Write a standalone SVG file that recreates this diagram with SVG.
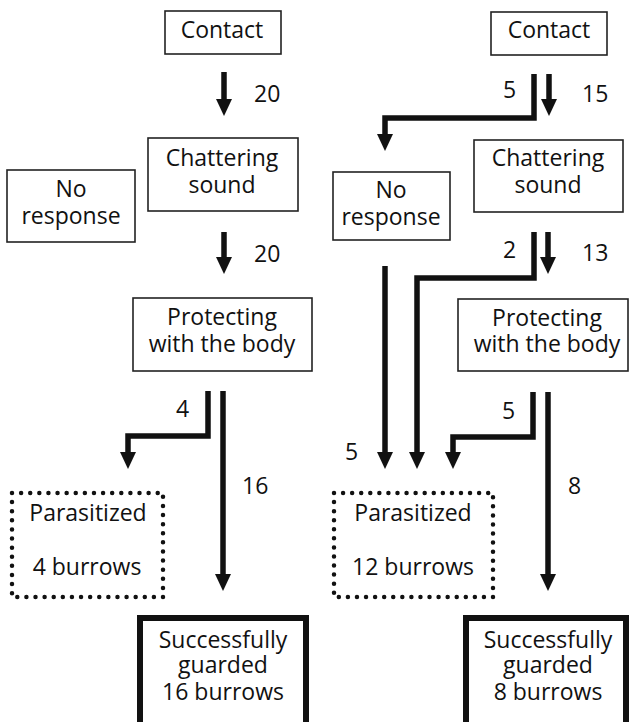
<svg xmlns="http://www.w3.org/2000/svg" width="629" height="722" viewBox="0 0 629 722">
<style>
text{font-family:"Open Sans","Liberation Sans",sans-serif;font-size:23px;fill:#111}
.c{text-anchor:middle}
.box{fill:#fff;stroke:#222;stroke-width:1.6}
.dot{fill:none;stroke:#111;stroke-width:4.5;stroke-linecap:round;stroke-dasharray:0 1}
.thick{fill:#fff;stroke:#111;stroke-width:6}
.ar{fill:none;stroke:#111;stroke-width:5.5;stroke-linejoin:miter;marker-end:url(#ah)}
</style>
<defs>
<marker id="ah" viewBox="0 0 17 16" refX="1" refY="8" markerWidth="17" markerHeight="16" markerUnits="userSpaceOnUse" orient="auto">
<path d="M0,0 L17,8 L0,16 Z" fill="#111"/>
</marker>
</defs>
<rect width="629" height="722" fill="#fff"/>
<g id="connectors">
<path class="ar" d="M224,72 V100"/>
<path class="ar" d="M224,232 V258"/>
<path class="ar" d="M208,391 V436 H128 V453"/>
<path class="ar" d="M223,391 V575"/>
<path class="ar" d="M534,74 V118 H385 V135"/>
<path class="ar" d="M549,74 V100"/>
<path class="ar" d="M548,232 V258"/>
<path class="ar" d="M534,232 V278 H417 V453"/>
<path class="ar" d="M385,266 V453"/>
<path class="ar" d="M533,392 V437 H453 V453"/>
<path class="ar" d="M548,392 V575"/>
<text x="254" y="102">20</text>
<text x="254" y="262">20</text>
<text x="176" y="417">4</text>
<text x="242" y="494">16</text>
<text x="503" y="98">5</text>
<text x="582" y="102">15</text>
<text x="503" y="258">2</text>
<text x="582" y="261">13</text>
<text x="345" y="460">5</text>
<text x="502" y="419">5</text>
<text x="568" y="494">8</text>
</g>
<g id="contact-left"><rect class="box" x="165" y="11" width="116" height="43"/><text class="c" x="222" y="38">Contact</text></g>
<g id="chattering-left"><rect class="box" x="148" y="138" width="150" height="73"/><text class="c" x="222" y="166">Chattering</text><text class="c" x="222" y="193">sound</text></g>
<g id="noresponse-left"><rect class="box" x="7" y="170" width="128" height="72"/><text class="c" x="71" y="197">No</text><text class="c" x="71" y="224">response</text></g>
<g id="protecting-left"><rect class="box" x="133" y="298" width="179" height="73"/><text class="c" x="222" y="325">Protecting</text><text class="c" x="222" y="352">with the body</text></g>
<g id="parasitized-left"><rect class="dot" x="12" y="493" width="151" height="104" pathLength="56"/><text class="c" x="88" y="521">Parasitized</text><text class="c" x="87" y="575">4 burrows</text></g>
<g id="guarded-left"><rect class="thick" x="140" y="618" width="166" height="120"/><text class="c" x="223" y="648">Successfully</text><text class="c" x="223" y="673">guarded</text><text class="c" x="223" y="700">16 burrows</text></g>
<g id="contact-right"><rect class="box" x="491" y="12" width="116" height="43"/><text class="c" x="549" y="38">Contact</text></g>
<g id="noresponse-right"><rect class="box" x="333" y="172" width="117" height="68"/><text class="c" x="391" y="198">No</text><text class="c" x="391" y="225">response</text></g>
<g id="chattering-right"><rect class="box" x="474" y="140" width="149" height="72"/><text class="c" x="548" y="166">Chattering</text><text class="c" x="548" y="193">sound</text></g>
<g id="protecting-right"><rect class="box" x="458" y="299" width="170" height="72"/><text class="c" x="547" y="326">Protecting</text><text class="c" x="547" y="352">with the body</text></g>
<g id="parasitized-right"><rect class="dot" x="334" y="493" width="159" height="104" pathLength="58"/><text class="c" x="413" y="521">Parasitized</text><text class="c" x="413" y="575">12 burrows</text></g>
<g id="guarded-right"><rect class="thick" x="466" y="618" width="160" height="120"/><text class="c" x="548" y="648">Successfully</text><text class="c" x="548" y="673">guarded</text><text class="c" x="548" y="700">8 burrows</text></g>
</svg>
